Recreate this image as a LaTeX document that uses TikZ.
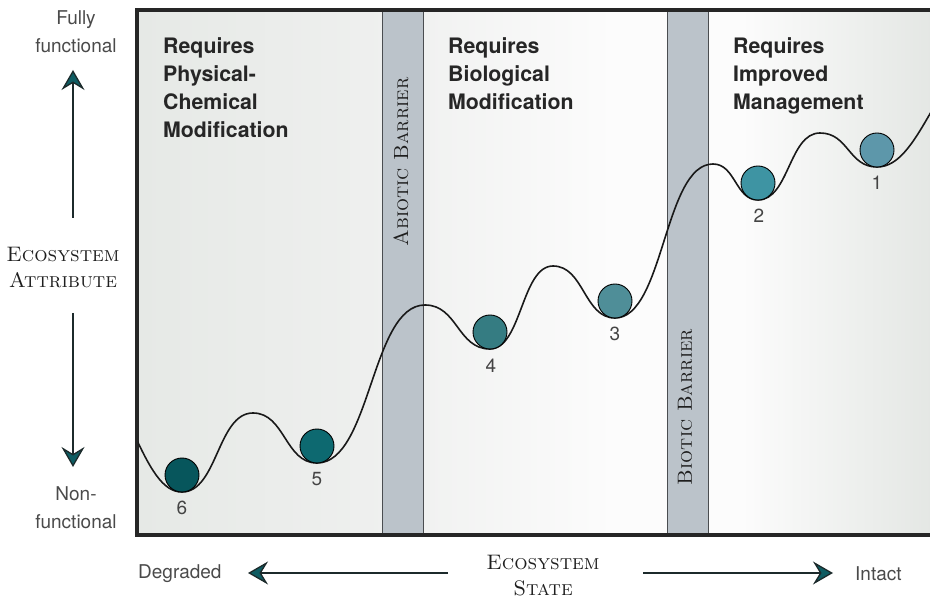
\documentclass[tikz,border=0pt]{standalone}
\usepackage{fontspec}
\setsansfont{TeX Gyre Heros}
\usetikzlibrary{arrows.meta}
\definecolor{bgA}{HTML}{E6E9E6}
\definecolor{bgB}{HTML}{EFF0EF}
\definecolor{bgW}{HTML}{FCFCFC}
\definecolor{bgC}{HTML}{E4E7E4}
\definecolor{barfill}{HTML}{BBC3CA}
\definecolor{bardraw}{HTML}{4A4D50}
\definecolor{framec}{HTML}{262626}
\definecolor{zonetext}{HTML}{262626}
\definecolor{sidegray}{HTML}{4A4A4A}
\definecolor{numgray}{HTML}{444444}
\definecolor{axisgray}{HTML}{1E1E1E}
\definecolor{arrowline}{HTML}{1C2A2B}
\definecolor{tipteal}{HTML}{0E5C62}
\definecolor{ballA}{HTML}{5D97AA}
\definecolor{ballB}{HTML}{3E94A3}
\definecolor{ballC}{HTML}{4F8E98}
\definecolor{ballD}{HTML}{357C82}
\definecolor{ballE}{HTML}{0D6970}
\definecolor{ballF}{HTML}{07565C}
\pgfdeclarehorizontalshading{bgshade}{100bp}{color(0bp)=(bgA); color(25bp)=(bgA); color(41bp)=(bgB); color(55bp)=(bgW); color(63bp)=(bgW); color(75bp)=(bgC); color(100bp)=(bgC)}
\begin{document}
\begin{tikzpicture}[x=1pt,y=-1pt,
  ball/.style={circle, draw=black, line width=0.9pt, minimum size=34pt, inner sep=0pt},
  numlbl/.style={font=\sffamily\fontsize{19}{22}\selectfont, text=numgray, inner sep=0pt},
  zone/.style={font=\sffamily\bfseries\fontsize{21.3}{28}\selectfont, text=zonetext, align=left, anchor=north west, inner sep=0pt},
  sidelbl/.style={font=\sffamily\fontsize{19}{28}\selectfont, text=sidegray, align=center, inner sep=0pt},
  axislbl/.style={font=\fontsize{21}{26}\selectfont\scshape, text=axisgray, align=center, inner sep=0pt},
  barlbl/.style={font=\fontsize{20.5}{24}\selectfont\scshape, text=axisgray, rotate=90, inner sep=0pt},
  barrier/.style={fill=barfill, draw=bardraw, line width=0.8pt},
  curve/.style={draw=black!90, line width=1.6pt},
  axisarrow/.style={draw=arrowline, line width=1.3pt, -{Stealth[length=20pt,width=23pt,inset=7pt,fill=tipteal]}}
]
\useasboundingbox (0,0) rectangle (930,601);
% background
\shade[shading=bgshade] (137,10) rectangle (932,535);
% barriers
\draw[barrier] (382,10) rectangle (423,535);
\draw[barrier] (667,10) rectangle (708,535);
% frame
\draw[framec, line width=3.5pt] (932,10) -- (137,10) -- (137,535) -- (932,535);
% zone texts
\node[zone] (zphys) at (163,37) {Requires\\Physical-\\Chemical\\Modification};
\node[zone] (zbio) at (448,37) {Requires\\Biological\\Modification};
\node[zone] (zman) at (733,37) {Requires\\Improved\\Management};
% barrier labels
\node[barlbl] (abio) at (401,162) {Abiotic Barrier};
\node[barlbl] (bio) at (685,407) {Biotic Barrier};
% curve
\begin{scope}
\clip (138,12) rectangle (930,533);
\draw[curve] (130,425) .. controls (150,470) and (163,492) .. (182,492)
 .. controls (217.5,492) and (217.5,413) .. (253,413)
 .. controls (285,413) and (285,463) .. (317,463)
 .. controls (371,463) and (371,305) .. (425,305)
 .. controls (457.5,305) and (457.5,349) .. (490,349)
 .. controls (521.5,349) and (521.5,266) .. (553,266)
 .. controls (584,266) and (584,318) .. (615,318)
 .. controls (664,318) and (664,164) .. (713,164)
 .. controls (735.5,164) and (735.5,200) .. (758,200)
 .. controls (789,200) and (789,133) .. (820,133)
 .. controls (848.5,133) and (848.5,167) .. (877,167)
 .. controls (900,167) and (915,140) .. (935,105);
\end{scope}
% balls
\node[ball, fill=ballF] (b6) at (182,475) {};
\node[ball, fill=ballE] (b5) at (317,446) {};
\node[ball, fill=ballD] (b4) at (490,332) {};
\node[ball, fill=ballC] (b3) at (615,301) {};
\node[ball, fill=ballB] (b2) at (758,183) {};
\node[ball, fill=ballA] (b1) at (877,150) {};
% numbers
\node[numlbl] (n6) at (182,508) {6};
\node[numlbl] (n5) at (317,479) {5};
\node[numlbl] (n4) at (491,366) {4};
\node[numlbl] (n3) at (615,334) {3};
\node[numlbl] (n2) at (759,216) {2};
\node[numlbl] (n1) at (877,183) {1};
% side labels
\node[sidelbl] (full) at (76,32) {Fully\\functional};
\node[sidelbl] (nonf) at (76,508) {Non-\\functional};
\node[axislbl] (attr) at (63,268) {Ecosystem\\Attribute};
\node[axislbl] (state) at (543,576) {Ecosystem\\State};
\node[sidelbl, anchor=base west] (degr) at (138,579) {Degraded};
\node[sidelbl, anchor=base west] (intact) at (855,580) {Intact};
% axis arrows
\coordinate (upS) at (73,218);
\coordinate (upE) at (73,70);
\coordinate (dnS) at (73,313);
\coordinate (dnE) at (73,467);
\coordinate (lfS) at (448,573);
\coordinate (lfE) at (248,573);
\coordinate (rtS) at (643,573);
\coordinate (rtE) at (833,573);
\draw[axisarrow] (upS) -- (upE);
\draw[axisarrow] (dnS) -- (dnE);
\draw[axisarrow] (lfS) -- (lfE);
\draw[axisarrow] (rtS) -- (rtE);
\end{tikzpicture}
\end{document}
